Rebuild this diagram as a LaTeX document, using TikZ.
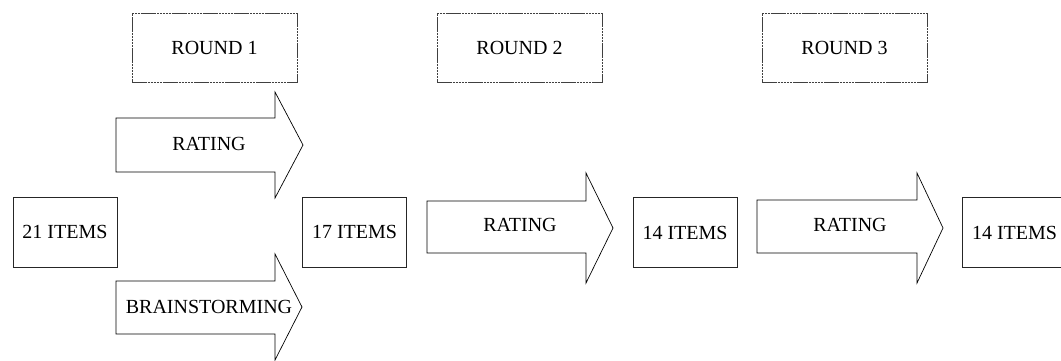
\documentclass[tikz,border=0pt]{standalone}
\usepackage{fontspec}
\setmainfont{Liberation Serif}
\begin{document}
\begin{tikzpicture}[x=1pt,y=-1pt,
  every node/.style={font=\fontsize{20}{24}\selectfont, inner sep=0pt},
  itembox/.style={draw=black!85, line width=0.8pt, minimum width=104pt, minimum height=70pt},
  roundbox/.style={draw=black!75, line width=0.9pt, dash pattern=on 2.5pt off 0.6pt, minimum width=165pt, minimum height=69pt},
  fatarrow/.style={draw=black, line width=0.7pt, fill=white, line join=miter}
]
\useasboundingbox (0,0) rectangle (1061,360);
\clip (0,0) rectangle (1061,360);

% round headers
\node[roundbox] (r1) at (214.5,47.5) {ROUND 1};
\node[roundbox] (r2) at (519.5,47.5) {ROUND 2};
\node[roundbox] (r3) at (844.5,47.5) {ROUND 3};

% item boxes
\node[itembox] (i21) at (65,232) {21 ITEMS};
\node[itembox] (i17) at (354.5,232) {17 ITEMS};
\node[itembox] (i14a) at (685,232.5) {14 ITEMS};
\node[itembox] (i14b) at (1014.5,232.5) {14 ITEMS};

% block arrows (round 1: rating and brainstorming)
\draw[fatarrow] (116,118) -- (275,118) -- (275,92) -- (303,145) -- (275,198) -- (275,172) -- (116,172) -- cycle;
\node (a1) at (209,144) {RATING};
\draw[fatarrow] (116,281) -- (275,281) -- (275,254) -- (302,307) -- (275,360) -- (275,334) -- (116,334) -- cycle;
\node (a2) at (209,307) {BRAINSTORMING};

% round 2 and round 3 rating arrows
\draw[fatarrow] (427,201) -- (586,201) -- (586,173) -- (613,228) -- (586,283) -- (586,253) -- (427,253) -- cycle;
\node (a3) at (520,225) {RATING};
\draw[fatarrow] (757,200) -- (917,200) -- (917,173) -- (943,228) -- (917,283) -- (917,253) -- (757,253) -- cycle;
\node (a4) at (850,225) {RATING};
\end{tikzpicture}
\end{document}
